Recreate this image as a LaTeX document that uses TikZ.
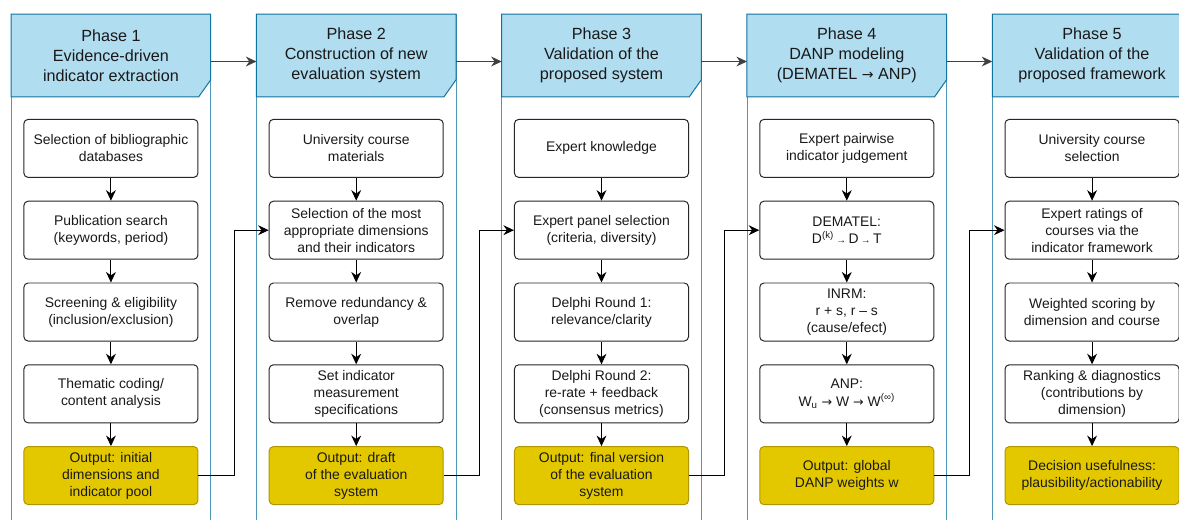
\documentclass[tikz,border=0pt]{standalone}
\usepackage{fontspec}
\setmainfont{Liberation Sans}
\newfontfamily\arrowfont{DejaVu Sans}
\usetikzlibrary{arrows.meta,backgrounds}
\definecolor{headblue}{HTML}{B1DDF0}
\definecolor{headline}{HTML}{10739E}
\definecolor{outfill}{HTML}{E3C800}
\definecolor{outline}{HTML}{B09500}
\newcommand{\rarr}{{\arrowfont\fontsize{9}{10}\selectfont →}}

\begin{document}
\begin{tikzpicture}[x=0.025cm,y=-0.025cm,>={Stealth[length=7.5pt,width=7pt]},
    box/.style={draw=black!85,fill=white,rounded corners=3pt,line width=0.7pt,
      minimum width=4.35cm,minimum height=1.45cm,inner sep=2pt,align=center,
      text=black!90,font=\fontsize{9.9}{12.1}\selectfont},
    outbox/.style={box,fill=outfill,draw=outline},
    head/.style={minimum width=4.975cm,minimum height=2.05cm,inner sep=0pt,
      align=center,text=black!90,font=\fontsize{11.5}{14.2}\selectfont},
    headshape/.style={fill=headblue,draw=headline,line width=0.7pt},
    frame/.style={draw=headline!75,line width=0.6pt}]
    \useasboundingbox (0,0) rectangle (1179,520);
            \matrix[anchor=center, column sep=1.756cm, row sep=0.57cm] at (601.5,312)
            {
             \node[box](P1_1) {Selection of bibliographic\\databases};
               & \node[box](P2_1) {University course\\materials};
               & \node[box](P3_1) {Expert knowledge};
               & \node[box](P4_1) {Expert pairwise\\indicator judgement};
               & \node[box](P5_1) {University course\\selection}; \\
             \node[box](P1_2) {Publication search\\(keywords, period)};
               & \node[box](P2_2) {Selection of the most\\appropriate dimensions\\and their indicators};
               & \node[box](P3_2) {Expert panel selection\\(criteria, diversity)};
               & \node[box](P4_2) {DEMATEL:\\D\textsuperscript{(k)}\,{\fontsize{7}{8}\selectfont →}\,D\,{\fontsize{7}{8}\selectfont →}\,T};
               & \node[box](P5_2) {Expert ratings of\\courses via the\\indicator framework}; \\
             \node[box](P1_3) {Screening \& eligibility\\(inclusion/exclusion)};
               & \node[box](P2_3) {Remove redundancy \&\\overlap};
               & \node[box](P3_3) {Delphi Round 1:\\relevance/clarity};
               & \node[box](P4_3) {INRM:\\r + s, r – s\\(cause/efect)};
               & \node[box](P5_3) {Weighted scoring by\\dimension and course}; \\
             \node[box](P1_4) {Thematic coding/\\content analysis};
               & \node[box](P2_4) {Set indicator\\measurement\\specifications};
               & \node[box](P3_4) {Delphi Round 2:\\re-rate + feedback\\(consensus metrics)};
               & \node[box](P4_4) {ANP:\\W\textsubscript{u} \rarr{} W \rarr{} W\textsuperscript{(∞)}};
               & \node[box](P5_4) {Ranking \& diagnostics\\(contributions by\\dimension)}; \\
             \node[outbox](P1_5) {Output: initial\\dimensions and\\indicator pool};
               & \node[outbox](P2_5) {Output: draft\\of the evaluation\\system};
               & \node[outbox](P3_5) {Output: final version\\of the evaluation\\system};
               & \node[outbox](P4_5) {Output: global\\DANP weights w};
               & \node[outbox](P5_5) {Decision usefulness:\\plausibility/actionability}; \\
            };
            % phase headers
            \coordinate (top) at (0,55.5);
            \node[head] (H1) at (P1_1 |- top) {Phase 1\\Evidence-driven\\indicator extraction};
            \node[head] (H2) at (P2_1 |- top) {Phase 2\\Construction of new\\evaluation system};
            \node[head] (H3) at (P3_1 |- top) {Phase 3\\Validation of the\\proposed system};
            \node[head] (H4) at (P4_1 |- top) {Phase 4\\DANP modeling\\(DEMATEL {\arrowfont\fontsize{10}{12}\selectfont →} ANP)};
            \node[head] (H5) at (P5_1 |- top) {Phase 5\\Validation of the\\proposed framework};
            \begin{scope}[on background layer]
                \draw[frame] (H1.north west) rectangle ([yshift=-13cm]H1.north east);
                \draw[frame] (H2.north west) rectangle ([yshift=-13cm]H2.north east);
                \draw[frame] (H3.north west) rectangle ([yshift=-13cm]H3.north east);
                \draw[frame] (H4.north west) rectangle ([yshift=-13cm]H4.north east);
                \draw[frame] (H5.north west) rectangle ([yshift=-13cm]H5.north east);
                \draw[headshape] (H1.north west) -- (H1.north east) -- ([yshift=0.425cm]H1.south east) -- ([xshift=-0.3cm]H1.south east) -- (H1.south west) -- cycle;
                \draw[headshape] (H2.north west) -- (H2.north east) -- ([yshift=0.425cm]H2.south east) -- ([xshift=-0.3cm]H2.south east) -- (H2.south west) -- cycle;
                \draw[headshape] (H3.north west) -- (H3.north east) -- ([yshift=0.425cm]H3.south east) -- ([xshift=-0.3cm]H3.south east) -- (H3.south west) -- cycle;
                \draw[headshape] (H4.north west) -- (H4.north east) -- ([yshift=0.425cm]H4.south east) -- ([xshift=-0.3cm]H4.south east) -- (H4.south west) -- cycle;
                \draw[headshape] (H5.north west) -- (H5.north east) -- ([yshift=0.425cm]H5.south east) -- ([xshift=-0.3cm]H5.south east) -- (H5.south west) -- cycle;
            \end{scope}
            \begin{scope}[->,line width=0.7pt]
                \draw[black!75] ([yshift=-0.15cm]H1.east) -- ([yshift=-0.15cm]H2.west);
                \draw[black!75] ([yshift=-0.15cm]H2.east) -- ([yshift=-0.15cm]H3.west);
                \draw[black!75] ([yshift=-0.15cm]H3.east) -- ([yshift=-0.15cm]H4.west);
                \draw[black!75] ([yshift=-0.15cm]H4.east) -- ([yshift=-0.15cm]H5.west);
                \draw (P1_1) -- (P1_2);
                \draw (P1_2) -- (P1_3);
                \draw (P1_3) -- (P1_4);
                \draw (P1_4) -- (P1_5);
                \draw (P2_1) -- (P2_2);
                \draw (P2_2) -- (P2_3);
                \draw (P2_3) -- (P2_4);
                \draw (P2_4) -- (P2_5);
                \draw (P3_1) -- (P3_2);
                \draw (P3_2) -- (P3_3);
                \draw (P3_3) -- (P3_4);
                \draw (P3_4) -- (P3_5);
                \draw (P4_1) -- (P4_2);
                \draw (P4_2) -- (P4_3);
                \draw (P4_3) -- (P4_4);
                \draw (P4_4) -- (P4_5);
                \draw (P5_1) -- (P5_2);
                \draw (P5_2) -- (P5_3);
                \draw (P5_3) -- (P5_4);
                \draw (P5_4) -- (P5_5);
                % outputs feed the next phase
                \draw (P1_5.east) -- ++(0.89cm,0) |- (P2_2.west);
                \draw (P2_5.east) -- ++(0.89cm,0) |- (P3_2.west);
                \draw (P3_5.east) -- ++(0.89cm,0) |- (P4_2.west);
                \draw (P4_5.east) -- ++(0.89cm,0) |- (P5_2.west);
            \end{scope}
\end{tikzpicture}
\end{document}
